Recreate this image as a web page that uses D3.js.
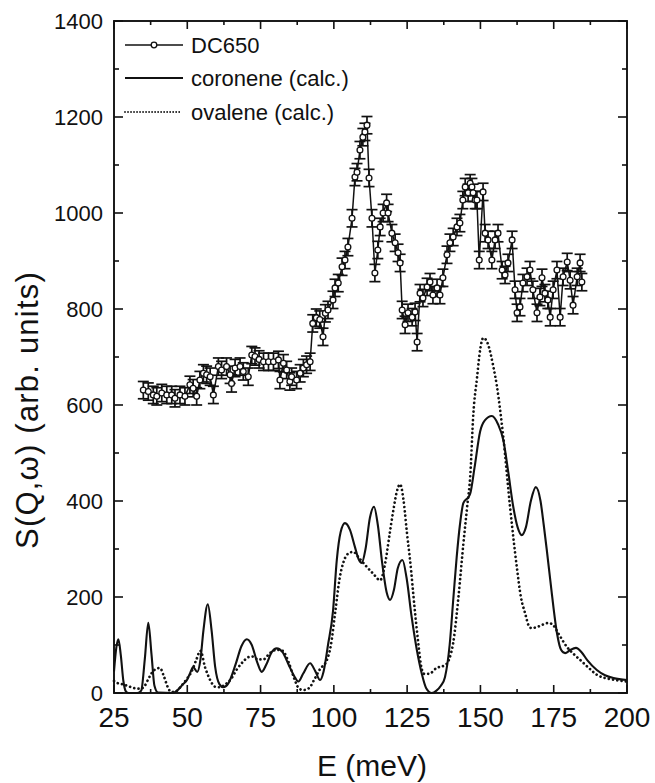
<!DOCTYPE html>
<html><head><meta charset="utf-8">
<script src="https://cdn.jsdelivr.net/npm/d3@7"></script>
<style>
body{margin:0;background:#fff;}
svg{display:block;font-family:"Liberation Sans",Arial,Helvetica,sans-serif;}
</style></head>
<body>
<svg id="chart" width="655" height="783"></svg>
<script>
// ---- data ----
const dcE = [35.0,36.7,38.4,39.6,41.3,43.0,44.7,45.8,47.5,49.2,50.9,52.0,53.2,54.3,55.5,56.6,57.8,58.9,60.6,61.7,63.4,64.6,65.1,66.3,68.0,69.1,70.8,72.0,73.1,74.5,76.0,77.7,79.4,81.1,81.6,82.8,83.9,85.0,85.6,87.3,88.5,89.6,90.7,91.9,
  92.8,94.0,95.2,96.3,97.1,98.0,99.7,100.4,101.5,102.8,103.8,104.8,106.2,107.2,107.9,108.9,109.9,110.6,111.3,112.0,113.0,114.0,115.0,115.8,116.8,118.0,118.5,119.8,120.9,121.9,122.6,123.3,124.3,125.3,126.7,127.7,128.4,129.4,130.4,131.8,132.8,133.8,135.2,136.2,137.2,138.6,139.6,140.7,142.0,143.0,144.0,144.8,145.8,146.5,147.1,147.5,148.2,148.8,149.6,150.9,151.6,152.6,153.9,155.0,156.0,157.4,158.4,159.4,160.8,161.8,162.5,163.5,164.5,165.9,166.9,167.9,169.3,170.3,171.0,172.0,173.0,173.8,174.8,176.1,177.2,178.2,179.6,180.6,181.6,183.0,184.0,184.6];
const dcS = [631,628,621,618,625,621,621,614,621,618,642,635,618,652,666,663,659,621,680,673,680,663,645,677,680,670,659,704,701,695,690,690,690,694,652,687,673,649,659,652,666,677,684,690,
  770,782,778,742,791,798,819,844,854,888,902,929,989,1075,1085,1131,1158,1169,1183,1073,989,875,923,971,1000,1021,1000,958,938,917,896,798,767,792,783,794,731,833,823,846,856,829,844,829,865,913,938,950,971,979,1027,1054,1042,1062,1054,1042,1027,1027,902,1044,958,944,902,944,958,881,871,896,944,840,792,804,854,867,881,840,792,825,865,833,819,783,840,881,783,867,898,860,808,867,896,856];
const dcErr = 18;

const corE = [25,25.8,26.5,27.3,28.2,29,30,33,34.3,35.5,36.7,37.8,38.8,40,45,46.5,48.5,50,51,52,53.4,54.5,55.5,57,58.3,59.5,61,62.3,64,66.5,68.5,70.3,72,73.8,75.4,77,78.8,80.5,82.5,84.5,86.5,87.9,89.5,91.9,93.7,95.3,96.5,98,99.7,101,102.3,103.8,105.5,107.2,108.5,109.5,110.8,112.3,113.7,115,116.5,118,119.2,120.5,121.8,123.4,124.8,126.5,128.3,130,131.5,133.4,135,136.5,137.9,139.5,140.8,141.9,143,144.2,145.9,146.5,148,149.9,151.5,153.9,156,157.8,159.5,161.2,162.7,164.1,165.5,167.2,168.9,170.5,171.6,172.6,174.3,176.1,177.5,178.9,180.7,182.6,184.5,186.5,189.7,192.5,195.4,200];
const corS = [45,95,112,80,25,4,0,0,5,70,146,80,15,1,0,5,18,28,42,54,44,70,130,185,130,55,18,12,20,60,98,112,100,65,44,60,85,93,85,60,35,24,40,62,45,27,45,100,170,277,335,354,340,304,278,271,300,365,388,350,270,210,194,215,260,277,240,160,90,40,10,0,5,15,33,100,200,283,350,396,408,415,470,545,568,577,560,527,460,388,345,329,345,400,429,400,350,300,210,125,90,83,90,94,85,68,48,37,31,27];

const ovaE = [25,26.5,28,30,32,34,35.5,36.8,37.9,39.3,40.7,42,43.5,44.5,46,48,49.8,51.5,53,54.5,56,57.8,59.5,61,63,65,67,69,71,72.5,74,76,78,80.5,82.5,84.5,86.5,88,89.5,91.5,93.5,95.3,97.5,99,100.5,102,103.2,104.8,106.6,108.5,111.2,113.5,115.8,117.5,119,120.3,121.5,122.6,123.8,125,126,127.5,128.8,129.8,130.8,132.5,135,137.9,139.3,140.7,142.5,144.2,145.5,146.5,147.6,148.8,149.9,151,152.5,154.4,155.6,157.8,160.1,162.4,163.8,165.2,166.5,167.5,169.5,171.5,173.2,175,176.5,179.5,182,184,187,189.7,192,194.3,197,200];
const ovaS = [25,20,18,14,10,9,15,30,42,50,52,35,10,2,3,15,29,45,68,88,55,27,13,12,18,30,50,65,75,76,70,70,82,90,88,65,30,10,6,10,30,50,67,100,170,240,271,290,294,282,263,248,235,270,330,381,420,435,400,330,277,180,104,55,40,40,52,58,70,104,200,312,390,450,583,655,715,740,728,680,640,533,388,263,200,167,140,135,138,143,146,140,125,96,80,69,52,38,32,29,26,24];

const xTicks = [25,50,75,100,125,150,175,200];
const yTicks = [0,200,400,600,800,1000,1200,1400];
const legendLabels = ["DC650","coronene (calc.)","ovalene (calc.)"];

// ---- layout ----
const svg = d3.select("#chart");
const L=114, R=627, T=21, B=693;
const x = d3.scaleLinear().domain([25,200]).range([L,R]);
const y = d3.scaleLinear().domain([0,1400]).range([B,T]);
const ink = "#111";

// frame
svg.append("rect").attr("x",L).attr("y",T).attr("width",R-L).attr("height",B-T)
  .attr("fill","none").attr("stroke",ink).attr("stroke-width",1.9);

// ticks
const xMinor = d3.range(37.5,200,25);
const yMinor = d3.range(100,1400,200);
const tk = svg.append("g").attr("stroke",ink).attr("stroke-width",1.6);
xTicks.forEach(v=>{tk.append("line").attr("x1",x(v)).attr("x2",x(v)).attr("y1",B).attr("y2",B-8);
  tk.append("line").attr("x1",x(v)).attr("x2",x(v)).attr("y1",T).attr("y2",T+8);});
xMinor.forEach(v=>{tk.append("line").attr("x1",x(v)).attr("x2",x(v)).attr("y1",B).attr("y2",B-4);
  tk.append("line").attr("x1",x(v)).attr("x2",x(v)).attr("y1",T).attr("y2",T+4);});
yTicks.forEach(v=>{tk.append("line").attr("x1",L).attr("x2",L+9).attr("y1",y(v)).attr("y2",y(v));
  tk.append("line").attr("x1",R).attr("x2",R-9).attr("y1",y(v)).attr("y2",y(v));});
yMinor.forEach(v=>{tk.append("line").attr("x1",L).attr("x2",L+5).attr("y1",y(v)).attr("y2",y(v));
  tk.append("line").attr("x1",R).attr("x2",R-5).attr("y1",y(v)).attr("y2",y(v));});

// tick labels
svg.append("g").selectAll("text").data(xTicks).join("text")
  .attr("x",d=>x(d)).attr("y",727).attr("text-anchor","middle")
  .attr("font-size",28).attr("fill",ink).text(d=>d);
svg.append("g").selectAll("text").data(yTicks).join("text")
  .attr("x",103).attr("y",d=>y(d)+8).attr("text-anchor","end")
  .attr("font-size",22).attr("fill",ink).text(d=>d);

// axis titles
svg.append("text").attr("x",372).attr("y",776).attr("text-anchor","middle")
  .attr("font-size",30).attr("fill",ink).text("E (meV)");
svg.append("text").attr("transform","translate(38,410) rotate(-90)").attr("text-anchor","middle")
  .attr("font-size",31).attr("letter-spacing",1.2).attr("fill",ink).text("S(Q,ω) (arb. units)");

// calc curves
const curveLine = d3.line().x(d=>x(d[0])).y(d=>y(d[1])).curve(d3.curveMonotoneX);
svg.append("path").datum(d3.zip(corE,corS)).attr("d",curveLine)
  .attr("fill","none").attr("stroke",ink).attr("stroke-width",2.1);
svg.append("path").datum(d3.zip(ovaE,ovaS)).attr("d",curveLine)
  .attr("fill","none").attr("stroke",ink).attr("stroke-width",2.7)
  .attr("stroke-linecap","round").attr("stroke-dasharray","0.01 4.3");

// DC650 experimental
const dc = d3.zip(dcE,dcS);
const lin = d3.line().x(d=>x(d[0])).y(d=>y(d[1]));
svg.append("path").datum(dc).attr("d",lin).attr("fill","none").attr("stroke",ink).attr("stroke-width",1.5);
const eb = svg.append("g").attr("stroke",ink).attr("stroke-width",1.7);
dc.forEach(d=>{
  const cx=x(d[0]), y1=y(d[1]+dcErr), y2=y(d[1]-dcErr);
  eb.append("line").attr("x1",cx).attr("x2",cx).attr("y1",y1).attr("y2",y2);
  eb.append("line").attr("x1",cx-5.5).attr("x2",cx+5.5).attr("y1",y1).attr("y2",y1);
  eb.append("line").attr("x1",cx-5.5).attr("x2",cx+5.5).attr("y1",y2).attr("y2",y2);
});
svg.append("g").selectAll("circle").data(dc).join("circle")
  .attr("cx",d=>x(d[0])).attr("cy",d=>y(d[1])).attr("r",2.9)
  .attr("fill","#fff").attr("stroke",ink).attr("stroke-width",1.3);

// legend
const lg = svg.append("g");
const rows = [45,78,112];
lg.append("line").attr("x1",125).attr("x2",183).attr("y1",rows[0]).attr("y2",rows[0]).attr("stroke",ink).attr("stroke-width",1.6);
lg.append("circle").attr("cx",154).attr("cy",rows[0]).attr("r",2.8).attr("fill","#fff").attr("stroke",ink).attr("stroke-width",1.3);
lg.append("line").attr("x1",125).attr("x2",183).attr("y1",rows[1]).attr("y2",rows[1]).attr("stroke",ink).attr("stroke-width",1.8);
lg.append("line").attr("x1",125).attr("x2",180).attr("y1",rows[2]).attr("y2",rows[2]).attr("stroke",ink).attr("stroke-width",1.8)
  .attr("stroke-linecap","round").attr("stroke-dasharray","0.01 3");
legendLabels.forEach((t,i)=>{
  lg.append("text").attr("x",191).attr("y",rows[i]+8).attr("font-size",22).attr("fill",ink).text(t);
});
</script>
</body></html>
